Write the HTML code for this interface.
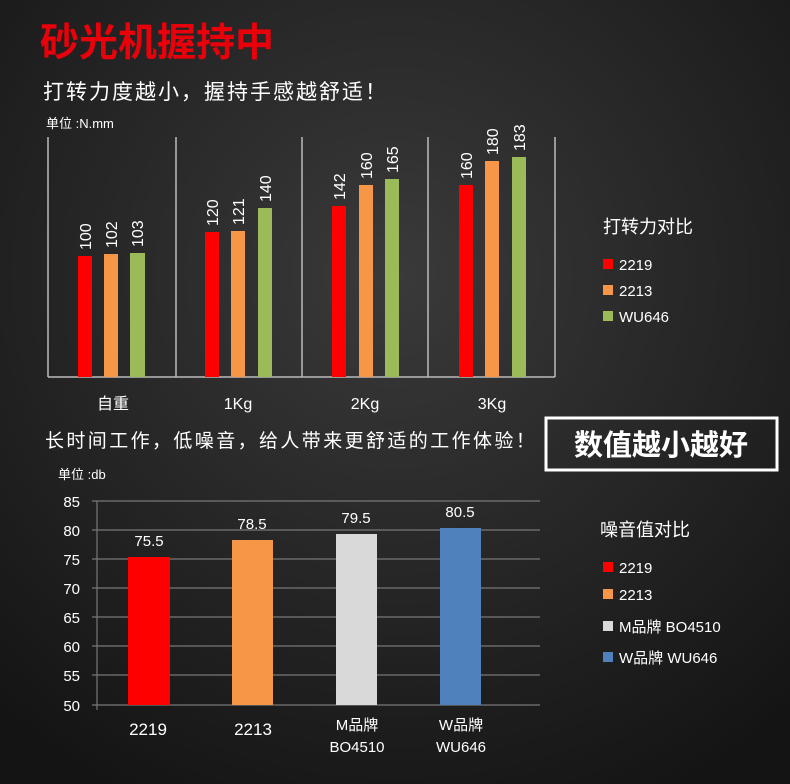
<!DOCTYPE html><html><head><meta charset="utf-8"><style>body{margin:0}svg{display:block}text{font-family:"Liberation Sans","Noto Sans CJK SC",sans-serif;fill:#fff}</style></head><body>
<svg width="790" height="784" xmlns="http://www.w3.org/2000/svg">
<defs><radialGradient id="bg" cx="0.5" cy="0.35" r="0.75"><stop offset="0" stop-color="#3a3a3a"/><stop offset="1" stop-color="#141414"/></radialGradient></defs>
<rect width="790" height="784" fill="url(#bg)"/>
<text x="40" y="56" font-size="39" font-weight="bold" style="fill:#e8000b">砂光机握持中</text>
<text x="43" y="99" font-size="21" letter-spacing="2">打转力度越小，握持手感越舒适！</text>
<text x="46" y="128" font-size="13">单位 :N.mm</text>
<g stroke="#bbb" stroke-width="1.5"><line x1="48" y1="137" x2="48" y2="377"/><line x1="176" y1="137" x2="176" y2="377"/><line x1="302" y1="137" x2="302" y2="377"/><line x1="428" y1="137" x2="428" y2="377"/><line x1="555" y1="137" x2="555" y2="377"/><line x1="48" y1="377" x2="555" y2="377"/></g>
<g font-size="16">
<rect x="78" y="256" width="14" height="121" fill="#f00"/><rect x="104" y="254" width="14" height="123" fill="#f79646"/><rect x="130" y="253" width="15" height="124" fill="#9bbb59"/>
<rect x="205" y="232" width="14" height="145" fill="#f00"/><rect x="231" y="231" width="14" height="146" fill="#f79646"/><rect x="258" y="208" width="14" height="169" fill="#9bbb59"/>
<rect x="332" y="206" width="14" height="171" fill="#f00"/><rect x="359" y="185" width="14" height="192" fill="#f79646"/><rect x="385" y="179" width="14" height="198" fill="#9bbb59"/>
<rect x="459" y="185" width="14" height="192" fill="#f00"/><rect x="485" y="161" width="14" height="216" fill="#f79646"/><rect x="512" y="157" width="14" height="220" fill="#9bbb59"/>
<text transform="translate(91,250) rotate(-90)">100</text><text transform="translate(117,248) rotate(-90)">102</text><text transform="translate(143,247) rotate(-90)">103</text>
<text transform="translate(218,226) rotate(-90)">120</text><text transform="translate(244,225) rotate(-90)">121</text><text transform="translate(271,202) rotate(-90)">140</text>
<text transform="translate(345,200) rotate(-90)">142</text><text transform="translate(372,179) rotate(-90)">160</text><text transform="translate(398,173) rotate(-90)">165</text>
<text transform="translate(472,179) rotate(-90)">160</text><text transform="translate(498,155) rotate(-90)">180</text><text transform="translate(525,151) rotate(-90)">183</text>
</g>
<g font-size="16" text-anchor="middle"><text x="113" y="409">自重</text><text x="238" y="409">1Kg</text><text x="365" y="409">2Kg</text><text x="492" y="409">3Kg</text></g>
<text x="603" y="233" font-size="18">打转力对比</text>
<g font-size="15"><rect x="603" y="259" width="10" height="10" fill="#f00"/><text x="619" y="270">2219</text>
<rect x="603" y="285" width="10" height="10" fill="#f79646"/><text x="619" y="296">2213</text>
<rect x="603" y="311" width="10" height="10" fill="#9bbb59"/><text x="619" y="322">WU646</text></g>
<text x="45" y="447" font-size="19" letter-spacing="2.4">长时间工作，低噪音，给人带来更舒适的工作体验！</text>
<rect x="546" y="418" width="231" height="52" fill="none" stroke="#fff" stroke-width="3"/>
<text x="661" y="455" font-size="29" font-weight="bold" text-anchor="middle">数值越小越好</text>
<text x="58" y="479" font-size="13">单位 :db</text>
<g stroke="#777" stroke-width="1.2"><line x1="92" y1="501" x2="540" y2="501"/><line x1="92" y1="530" x2="540" y2="530"/><line x1="92" y1="559" x2="540" y2="559"/><line x1="92" y1="588" x2="540" y2="588"/><line x1="92" y1="617" x2="540" y2="617"/><line x1="92" y1="646" x2="540" y2="646"/><line x1="92" y1="675" x2="540" y2="675"/><line x1="92" y1="705" x2="540" y2="705"/><line x1="97" y1="501" x2="97" y2="710"/></g>
<g font-size="15" text-anchor="end"><text x="80" y="507">85</text><text x="80" y="536">80</text><text x="80" y="565">75</text><text x="80" y="594">70</text><text x="80" y="623">65</text><text x="80" y="652">60</text><text x="80" y="681">55</text><text x="80" y="711">50</text></g>
<rect x="128" y="557" width="42" height="148" fill="#f00"/><rect x="232" y="540" width="41" height="165" fill="#f79646"/><rect x="336" y="534" width="41" height="171" fill="#d9d9d9"/><rect x="440" y="528" width="41" height="177" fill="#4f81bd"/>
<g font-size="15" text-anchor="middle"><text x="149" y="546">75.5</text><text x="252" y="529">78.5</text><text x="356" y="523">79.5</text><text x="460" y="517">80.5</text>
<text x="148" y="735" font-size="17">2219</text><text x="253" y="735" font-size="17">2213</text><text x="357" y="730">M品牌</text><text x="357" y="752">BO4510</text><text x="461" y="730">W品牌</text><text x="461" y="752">WU646</text></g>
<text x="600" y="536" font-size="18">噪音值对比</text>
<g font-size="15"><rect x="603" y="562" width="10" height="10" fill="#f00"/><text x="619" y="573">2219</text>
<rect x="603" y="589" width="10" height="10" fill="#f79646"/><text x="619" y="600">2213</text>
<rect x="603" y="621" width="10" height="10" fill="#d9d9d9"/><text x="619" y="632">M品牌 BO4510</text>
<rect x="603" y="652" width="10" height="10" fill="#4f81bd"/><text x="619" y="663">W品牌 WU646</text></g>
</svg></body></html>
